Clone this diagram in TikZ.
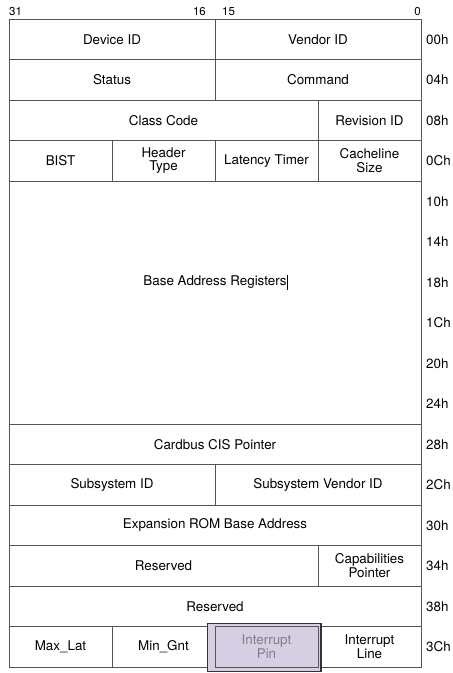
\documentclass[tikz,border=0pt]{standalone}
\usepackage{fontspec}
\setmainfont{TeX Gyre Heros}
\usetikzlibrary{positioning}

\definecolor{linegray}{RGB}{85,85,85}
\definecolor{pinfill}{RGB}{214,206,226}
\definecolor{pintext}{RGB}{130,125,140}

\begin{document}
\begin{tikzpicture}[x=1pt,y=-1pt,
  cellfont/.style={font=\fontsize{13.4}{13.5}\selectfont},
  cell/.style={draw=linegray, line width=0.9pt, inner sep=0pt, outer sep=0pt,
    anchor=north west, minimum height=40.5pt, align=center, cellfont},
  offlbl/.style={anchor=west, inner sep=0pt, cellfont},
  bitlbl/.style={inner sep=0pt, font=\fontsize{11.5}{12}\selectfont}]

  \useasboundingbox (0,0) rectangle (453,673);

  % Row height and column edges
  \def\h{40.5}
  \def\q{103}

  % Bit numbers
  \node[bitlbl, anchor=base west] (b31) at (9,15.5) {31};
  \node[bitlbl, anchor=base east] (b16) at (206,15.5) {16};
  \node[bitlbl, anchor=base west] (b15) at (222,15.5) {15};
  \node[bitlbl, anchor=base east] (b0) at (421,15.5) {0};

  % 00h
  \node[cell, minimum width=2*\q] (devid) at (9,19) {Device ID};
  \node[cell, minimum width=2*\q] (venid) at (215,19) {Vendor ID};
  % 04h
  \node[cell, minimum width=2*\q] (status) at (9,{19+\h}) {Status};
  \node[cell, minimum width=2*\q] (cmd) at (215,{19+\h}) {Command};
  % 08h
  \node[cell, minimum width=3*\q] (class) at (9,{19+2*\h}) {Class Code};
  \node[cell, minimum width=\q] (rev) at (318,{19+2*\h}) {Revision ID};
  % 0Ch
  \node[cell, minimum width=\q] (bist) at (9,{19+3*\h}) {BIST};
  \node[cell, minimum width=\q] (hdr) at (112,{19+3*\h}) {Header\\Type};
  \node[cell, minimum width=\q] (lat) at (215,{19+3*\h}) {Latency Timer};
  \node[cell, minimum width=\q] (cls) at (318,{19+3*\h}) {Cacheline\\Size};
  % 10h - 24h
  \node[cell, minimum width=4*\q, minimum height=6*\h] (bar) at (9,{19+4*\h}) {};
  \node[cellfont, inner sep=0pt] (bartxt) at ([yshift=20pt]bar.center)
    {Base Address Registers\rlap{\hspace{0.6pt}\rule[-5pt]{0.9pt}{15pt}}};
  % 28h
  \node[cell, minimum width=4*\q] (cis) at (9,{19+10*\h}) {Cardbus CIS Pointer};
  % 2Ch
  \node[cell, minimum width=2*\q] (subid) at (9,{19+11*\h}) {Subsystem ID};
  \node[cell, minimum width=2*\q] (subven) at (215,{19+11*\h}) {Subsystem Vendor ID};
  % 30h
  \node[cell, minimum width=4*\q] (rom) at (9,{19+12*\h}) {Expansion ROM Base Address};
  % 34h
  \node[cell, minimum width=3*\q] (res1) at (9,{19+13*\h}) {Reserved};
  \node[cell, minimum width=\q] (cap) at (318,{19+13*\h}) {Capabilities\\Pointer};
  % 38h
  \node[cell, minimum width=4*\q] (res2) at (9,{19+14*\h}) {Reserved};
  % 3Ch
  \node[cell, minimum width=\q] (maxlat) at (9,{19+15*\h}) {Max\_Lat};
  \node[cell, minimum width=\q] (mingnt) at (112,{19+15*\h}) {Min\_Gnt};
  \node[cell, minimum width=\q] (intline) at (318,{19+15*\h}) {Interrupt\\Line};

  % Highlighted interrupt pin
  \draw[fill=pinfill, draw=black!80, line width=1.1pt] (207.5,623.5) rectangle (321,671.5);
  \node[cell, minimum width=\q, fill=pinfill, text=pintext] (intpin) at (215,{19+15*\h}) {Interrupt\\Pin};

  % Offsets
  \foreach \off [count=\i from 0] in {00h,04h,08h,0Ch,10h,14h,18h,1Ch,20h,24h,28h,2Ch,30h,34h,38h,3Ch}
    \node[offlbl] (off\i) at (426,{19+(\i+0.5)*\h}) {\off};

\end{tikzpicture}
\end{document}
